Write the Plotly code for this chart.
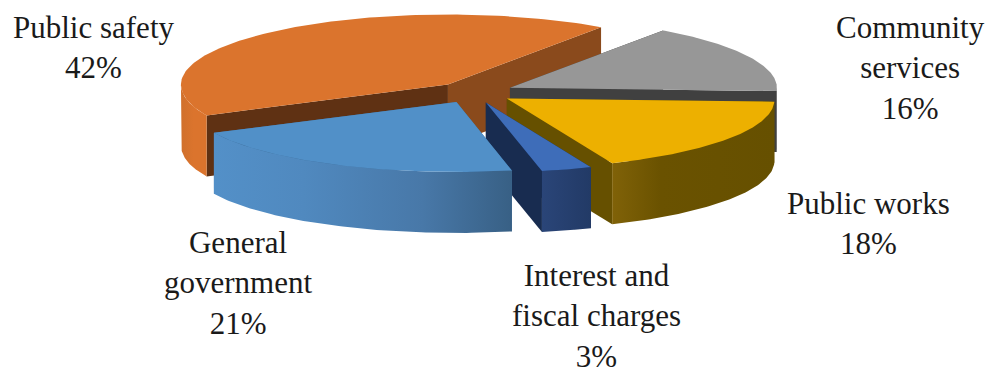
import numpy as np
import plotly.graph_objects as go

# Expenditure shares, clockwise from the first slice
categories = ["Community<br>services", "Public works", "Interest and<br>fiscal charges",
              "General<br>government", "Public safety"]
shares = [16, 18, 3, 21, 42]

# Slice styling
top_colors = ["#979797", "#EDB000", "#3E6DB9", "#5190C8", "#DB742D"]
start_cut_colors = ["#404040", "#665000", "#182C50", "#3F6F9C", "#5F3113"]
end_cut_colors = ["#404040", "#665000", "#182C50", "#3F6F9C", "#8A4A1C"]
rim_gradients = [
    [[0, "#404040"], [1, "#404040"]],
    [[0, "#806208"], [0.3, "#6A5200"], [1, "#665000"]],
    [[0, "#2A4578"], [1, "#223A66"]],
    [[0, "#5390C8"], [0.3, "#5089BF"], [0.7, "#4878A8"], [1, "#386085"]],
    [[0, "#D0702C"], [0.5, "#DB742D"], [1, "#DB742D"]],
]
# Slices are painted from the back of the pie to the front
paint_order = [4, 0, 1, 2, 3]

# Label anchors as (x, y of the block centre) on the pixel-sized axes
label_centres = [(910, 68), (868, 223), (596, 316), (238, 283), (93, 47)]

# Pie projection
CENTRE_X, CENTRE_Y = 474, 92.5
RADIUS_X, RADIUS_Y = 267, 70
THICKNESS = 61
EXPLODE = 0.15
START_ANGLE = 35
NEAR_SPREAD = 0.02  # the near half of the pie is drawn slightly wider


def rim(apex, angles):
    t = np.radians(angles)
    x = apex[0] + RADIUS_X * np.sin(t)
    y = apex[1] - RADIUS_Y * np.cos(t)
    spread = 1 + NEAR_SPREAD * np.maximum(0, y - CENTRE_Y) / RADIUS_Y
    return CENTRE_X + (x - CENTRE_X) * spread, y


def polygon(x, y, **style):
    return go.Scatter(x=np.append(x, x[0]), y=np.append(y, y[0]), mode="lines",
                      line=dict(width=0), fill="toself", hoverinfo="skip",
                      showlegend=False, **style)


fig = go.Figure()
edges = START_ANGLE + np.concatenate([[0], np.cumsum(shares)]) * 3.6

for i in paint_order:
    a0, a1 = edges[i], edges[i + 1]
    mid = np.radians((a0 + a1) / 2)
    apex = (CENTRE_X + EXPLODE * RADIUS_X * np.sin(mid),
            CENTRE_Y - EXPLODE * RADIUS_Y * np.cos(mid))

    # Flat cut faces running from the centre to the rim
    for angle, colour in ((a0, start_cut_colors[i]), (a1, end_cut_colors[i])):
        ex, ey = rim(apex, np.array([angle]))
        fig.add_trace(polygon(np.array([apex[0], ex[0], ex[0], apex[0]]),
                              np.array([apex[1], ey[0], ey[0] + THICKNESS, apex[1] + THICKNESS]),
                              fillcolor=colour))

    # Curved outer wall on the near half of the pie
    lo = max(a0, 90)
    hi = min(a1, 270)
    if hi > lo:
        wall = np.linspace(lo, hi, 80)
        wx, wy = rim(apex, wall)
        fig.add_trace(polygon(np.concatenate([wx, wx[::-1]]),
                              np.concatenate([wy, wy[::-1] + THICKNESS]),
                              fillgradient=dict(type="horizontal", colorscale=rim_gradients[i])))

    # Top face
    arc = np.linspace(a0, a1, 120)
    tx, ty = rim(apex, arc)
    fig.add_trace(polygon(np.concatenate([[apex[0]], tx]), np.concatenate([[apex[1]], ty]),
                          fillcolor=top_colors[i]))

for name, share, (lx, ly) in zip(categories, shares, label_centres):
    fig.add_annotation(x=lx, y=ly, text=f"{name}<br>{share}%", showarrow=False,
                       xanchor="center", yanchor="middle", align="center",
                       font=dict(family="Liberation Serif", size=31, color="#1A1A1A"))

fig.update_layout(
    width=992, height=373, margin=dict(l=0, r=0, t=0, b=0),
    paper_bgcolor="white", plot_bgcolor="white",
    xaxis=dict(range=[0, 992], visible=False, fixedrange=True),
    yaxis=dict(range=[373, 0], visible=False, fixedrange=True),
)
fig.write_html("out.html", config=dict(displayModeBar=False))
